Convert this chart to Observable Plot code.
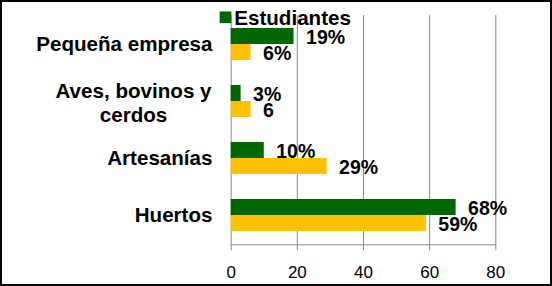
<!DOCTYPE html>
<html>
<head>
<meta charset="utf-8">
<script src="https://cdn.jsdelivr.net/npm/d3@7"></script>
<script src="https://cdn.jsdelivr.net/npm/@observablehq/plot@0.6"></script>
<style>
  html, body { margin: 0; padding: 0; background: #fff; }
  #wrap { position: absolute; left: 0; top: 0; width: 552px; height: 286px; box-sizing: border-box; border: 2px solid #000; background: #fff; overflow: hidden; }
</style>
</head>
<body>
<div id="wrap"></div>
<script>
const categories = ["Pequeña empresa", "Aves, bovinos y cerdos", "Artesanías", "Huertos"];
const categoryLines = ["Pequeña empresa", "Aves, bovinos y\ncerdos", "Artesanías", "Huertos"];
const seriesNames = ["Estudiantes", "Otros"];
const estudiantes = [19, 3, 10, 68];
const otros = [6, 6, 29, 59];
const estudiantesLabels = ["19%", "3%", "10%", "68%"];
const otrosLabels = ["6%", "6", "29%", "59%"];
const xTicks = [0, 20, 40, 60, 80];

const green = "#006600";
const gold = "#FFC000";
const font = "'Liberation Sans', Arial, sans-serif";

const rowsE = categories.map((c, i) => ({category: c, value: estudiantes[i], label: estudiantesLabels[i]}));
const rowsO = categories.map((c, i) => ({category: c, value: otros[i], label: otrosLabels[i]}));
const catRows = categories.map((c, i) => ({category: c, display: categoryLines[i]}));
const singleLine = catRows.filter(d => !d.display.includes("\n"));
const multiLine = catRows.filter(d => d.display.includes("\n"));

const chart = Plot.plot({
  width: 548,
  height: 282,
  marginLeft: 228.7,
  marginRight: 54.7,
  marginTop: 13,
  marginBottom: 39.7,
  style: {fontFamily: font, background: "#fff", color: "#000", overflow: "visible"},
  x: {domain: [0, 80], axis: null, label: null},
  y: {domain: categories, paddingInner: 0.44, paddingOuter: 0.22, axis: null, label: null},
  marks: [
    Plot.gridX(xTicks, {stroke: "#888", strokeOpacity: 1}),
    Plot.frame({anchor: "bottom", stroke: "#888"}),
    Plot.axisX(xTicks, {anchor: "bottom", label: null, tickSize: 6, tickPadding: 14.7, fontSize: 17, stroke: "#888", fill: "#000"}),
    Plot.barX(rowsE, {x: "value", y: "category", fill: green, insetBottom: 16}),
    Plot.barX(rowsO, {x: "value", y: "category", fill: gold, insetTop: 16}),
    Plot.text(rowsE, {x: "value", y: "category", text: "label", dx: 12, dy: -6.5, textAnchor: "start", lineAnchor: "middle", fontWeight: "bold", fontSize: 19.5, fill: "#000"}),
    Plot.text(rowsO, {x: "value", y: "category", text: "label", dx: 12, dy: 9.7, textAnchor: "start", lineAnchor: "middle", fontWeight: "bold", fontSize: 19.5, fill: "#000"}),
    Plot.text(singleLine, {y: "category", text: "display", frameAnchor: "left", dx: -18.7, textAnchor: "end", lineAnchor: "middle", fontWeight: "bold", fontSize: 20.6, fill: "#000"}),
    Plot.text(multiLine, {y: "category", text: "display", frameAnchor: "left", dx: -97.7, dy: 0.5, textAnchor: "middle", lineAnchor: "middle", lineHeight: 1.17, fontWeight: "bold", fontSize: 20.6, fill: "#000"}),
    Plot.dot([seriesNames[0]], {frameAnchor: "top-left", symbol: "square", r: 6.6, fill: green, stroke: null, dx: -5.7, dy: 1.8}),
    Plot.text([seriesNames[0]], {frameAnchor: "top-left", text: d => d, dx: 3, dy: 2.5, textAnchor: "start", lineAnchor: "middle", fontWeight: "bold", fontSize: 20.6, fill: "#000"})
  ]
});
document.getElementById("wrap").appendChild(chart);
</script>
</body>
</html>
